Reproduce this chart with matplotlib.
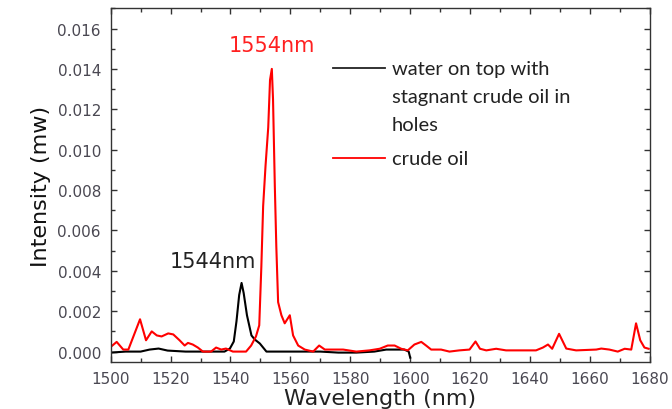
import numpy as np
import matplotlib.pyplot as plt
from matplotlib.lines import Line2D
from matplotlib.ticker import MultipleLocator, FormatStrFormatter


# Data

wl_water = [1500, 1505, 1510, 1513, 1516, 1519, 1525, 1530, 1535, 1538,
            1539.8, 1541.1, 1542, 1542.9, 1543.7, 1544.4, 1545.5, 1547,
            1548.1, 1549.8, 1552, 1560, 1570, 1576, 1582, 1588, 1592,
            1598, 1599.5, 1600]
int_water = [-0.00005, 0.0, 0.0, 0.0001, 0.00015, 0.00005, 0.0, 0.0, 0.0, 0.0,
             0.00015, 0.0005, 0.0015, 0.0028, 0.0034, 0.0029, 0.0018, 0.0008,
             0.0006, 0.0004, 0.0, 0.0, 0.0, -0.00005, -0.00005, 0.0, 0.0001,
             0.0001, 0.0, -0.0003]

wl_oil = [1500, 1502, 1504.2, 1505.9, 1509.8, 1511.8, 1513.7, 1515.4, 1517,
          1519.2, 1520.9, 1523, 1524.7, 1525.8, 1527.4, 1529.1, 1530.8, 1533.5,
          1535.2, 1536.9, 1538.5, 1540.8, 1545.2, 1546.9, 1548.5, 1549.6,
          1550.3, 1550.9, 1551.7, 1552.6, 1553.2, 1553.8, 1554.2, 1554.8,
          1555.3, 1555.9, 1557, 1558.1, 1559.8, 1560.9, 1562.6, 1564.8,
          1567.6, 1569.6, 1571.5, 1577.6, 1582, 1586.4, 1589.8, 1592.5,
          1594.8, 1597, 1599.2, 1601.4, 1603.7, 1605.3, 1607, 1610.3, 1613.1,
          1616.4, 1619.8, 1621.8, 1623.3, 1625.4, 1628.7, 1632, 1642, 1644.3,
          1646, 1647.4, 1649.7, 1652.1, 1655.4, 1662.1, 1663.8, 1666.5,
          1669.3, 1671.6, 1673.8, 1675.4, 1676.8, 1678.2, 1679.6]
int_oil = [0.00023, 0.00048, 0.0001, 0.0001, 0.0016, 0.00056, 0.001, 0.0008,
           0.00075, 0.0009, 0.00085, 0.00056, 0.0003, 0.00043, 0.00035, 0.0002,
           0.0, 0.0, 0.0002, 0.0001, 0.00015, 0.0, 0.0, 0.0003, 0.00075, 0.0013,
           0.0042, 0.0072, 0.0092, 0.0111, 0.01345, 0.0140, 0.0125, 0.0082,
           0.0052, 0.00245, 0.0018, 0.0014, 0.0018, 0.0008, 0.0003, 0.0001,
           0.0, 0.0003, 0.0001, 0.0001, 0.0, 0.00006, 0.00014, 0.0003,
           0.0003, 0.00014, 0.00006, 0.00035, 0.00048, 0.0003, 0.0001, 0.0001,
           0.0, 0.00006, 0.0001, 0.0005, 0.00014, 0.00006, 0.00014, 0.00006,
           0.00006, 0.0002, 0.00035, 0.00014, 0.00088, 0.00015, 0.00006, 0.0001,
           0.00015, 0.0001, 0.0, 0.00014, 0.0001, 0.0014, 0.00056, 0.0002,
           0.00014]

label_water = "water on top with\nstagnant crude oil in\nholes"
label_oil = "crude oil"

peak_oil = (1553.7, 0.0152, "1554nm")
peak_water = (1534.1, 0.00448, "1544nm")


plt.rcParams['font.family'] = ['DejaVu Sans']

fig = plt.figure(figsize=(6.72, 4.10), dpi=100)
ax = fig.add_axes([0.1647, 0.1154, 0.8023, 0.8619])

ax.plot(wl_water, int_water, color='black', lw=1.5)
ax.plot(wl_oil, int_oil, color='#ff0000', lw=1.5)

ax.set_xlim(1500, 1680)
ax.set_ylim(-0.0005, 0.0170)

ax.xaxis.set_major_locator(MultipleLocator(20))
ax.xaxis.set_minor_locator(MultipleLocator(10))
ax.yaxis.set_major_locator(MultipleLocator(0.002))
ax.yaxis.set_minor_locator(MultipleLocator(0.001))
ax.yaxis.set_major_formatter(FormatStrFormatter('%.3f'))

ax.tick_params(which='both', direction='in', top=True, right=True,
               color='#333333', width=1.0)
ax.tick_params(which='major', length=4.5, labelsize=11,
               labelcolor='#4a4852', pad=7)
ax.tick_params(which='minor', length=3.2)
for s in ax.spines.values():
    s.set_color('#333333')
    s.set_linewidth(1.0)

ax.set_xlabel("Wavelength (nm)", fontsize=16, color='#222222', labelpad=1)
ax.set_ylabel("Intensity (mw)", fontsize=16, color='#111111', labelpad=5)

# peak labels
ax.text(peak_oil[0], peak_oil[1], peak_oil[2], color='#ff2020',
        fontsize=15, ha='center', va='center')
ax.text(peak_water[0], peak_water[1], peak_water[2], color='#222222',
        fontsize=15, ha='center', va='center')

# legend drawn by hand so the handle sits on the first text line
ax.add_line(Line2D([0.412, 0.509], [0.831, 0.831], color='#222222', lw=1.3,
                   transform=ax.transAxes))
ax.add_line(Line2D([0.412, 0.509], [0.5764, 0.5764], color='#ff0000', lw=1.3,
                   transform=ax.transAxes))
line_step = 28.3 / 353.4
for i, txt in enumerate(label_water.split("\n")):
    ax.text(0.521, 0.8147 - i * line_step, txt, transform=ax.transAxes,
            fontsize=14.5, family='Lato', color='#222222', va='baseline')
ax.text(0.521, 0.559, label_oil, transform=ax.transAxes, fontsize=14.5,
        family='Lato', color='#222222', va='baseline')

fig.savefig('out.png', dpi=100)
